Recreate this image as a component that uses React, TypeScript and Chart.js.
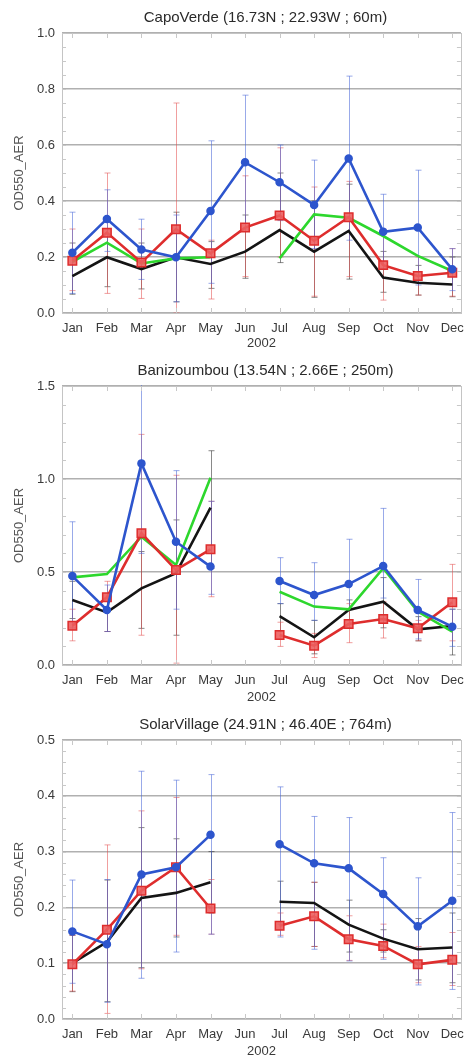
import { useEffect, useRef } from "react";
import { Chart, registerables } from "chart.js";

Chart.register(...registerables);

// ---- shared axis data ----
const MONTHS = ["Jan", "Feb", "Mar", "Apr", "May", "Jun", "Jul", "Aug", "Sep", "Oct", "Nov", "Dec"];
const MONTH_INDEX = [1, 2, 3, 4, 5, 6, 7, 8, 9, 10, 11, 12];
const YEAR_LABEL = "2002";
const Y_TITLE = "OD550_AER";

// ---- Capo Verde ----
const capoTitle = "CapoVerde (16.73N ; 22.93W ; 60m)";
const capoTicks = [0, 0.2, 0.4, 0.6, 0.8, 1.0];
const capoBlue = [0.215, 0.336, 0.227, 0.199, 0.364, 0.538, 0.467, 0.386, 0.552, 0.29, 0.305, 0.156];
const capoBlueLow = [0.07, 0.22, 0.12, 0.04, 0.106, 0.3, 0.33, 0.23, 0.26, 0.16, 0.1, 0.08];
const capoBlueHigh = [0.36, 0.44, 0.335, 0.35, 0.615, 0.778, 0.6, 0.546, 0.846, 0.424, 0.51, 0.23];
const capoRed = [0.187, 0.287, 0.18, 0.299, 0.213, 0.305, 0.348, 0.258, 0.342, 0.171, 0.132, 0.144];
const capoRedLow = [0.08, 0.07, 0.052, 0.0, 0.05, 0.13, 0.2, 0.06, 0.13, 0.046, 0.064, 0.06];
const capoRedHigh = [0.3, 0.5, 0.3, 0.75, 0.26, 0.49, 0.59, 0.45, 0.47, 0.3, 0.2, 0.23];
const capoGreen = [0.183, 0.251, 0.177, 0.195, 0.199, null, 0.195, 0.352, 0.34, 0.275, 0.204, 0.15];
const capoBlack = [0.132, 0.199, 0.157, 0.199, 0.175, 0.219, 0.296, 0.219, 0.293, 0.127, 0.108, 0.102];
const capoBlackLow = [0.067, 0.094, 0.086, 0.04, 0.088, 0.124, 0.18, 0.056, 0.121, 0.074, 0.064, 0.058];
const capoBlackHigh = [0.25, 0.3, 0.25, 0.36, 0.255, 0.35, 0.5, 0.4, 0.46, 0.22, 0.17, 0.2];

// ---- Banizoumbou ----
const baniTitle = "Banizoumbou (13.54N ; 2.66E ; 250m)";
const baniTicks = [0, 0.5, 1.0, 1.5];
const baniBlue = [0.478, 0.296, 1.084, 0.663, 0.529, null, 0.452, 0.376, 0.435, 0.532, 0.296, 0.206];
const baniBlueLow = [0.2, 0.18, 0.6, 0.3, 0.38, null, 0.33, 0.24, 0.3, 0.36, 0.14, 0.1];
const baniBlueHigh = [0.77, 0.43, 1.6, 1.045, 0.88, null, 0.577, 0.55, 0.676, 0.842, 0.46, 0.3];
const baniRed = [0.211, 0.364, 0.708, 0.511, 0.622, null, 0.161, 0.104, 0.22, 0.247, 0.197, 0.337];
const baniRedLow = [0.13, 0.18, 0.16, 0.01, 0.367, null, 0.1, 0.04, 0.12, 0.145, 0.13, 0.13];
const baniRedHigh = [0.3, 0.45, 1.24, 1.02, 0.88, null, 0.23, 0.17, 0.33, 0.34, 0.24, 0.541];
const baniGreen = [0.471, 0.489, 0.69, 0.538, 1.007, null, 0.394, 0.314, 0.299, 0.52, 0.287, 0.179];
const baniBlack = [0.349, 0.283, 0.412, 0.493, 0.846, null, 0.263, 0.149, 0.296, 0.34, 0.192, 0.21];
const baniBlackLow = [0.25, 0.18, 0.197, 0.16, 0.52, null, 0.18, 0.06, 0.2, 0.2, 0.13, 0.054];
const baniBlackHigh = [0.45, 0.36, 0.61, 0.78, 1.152, null, 0.33, 0.24, 0.35, 0.47, 0.26, 0.3];

// ---- Solar Village ----
const solarTitle = "SolarVillage (24.91N ; 46.40E ; 764m)";
const solarTicks = [0, 0.1, 0.2, 0.3, 0.4, 0.5];
const solarBlue = [0.157, 0.134, 0.259, 0.272, 0.33, null, 0.313, 0.279, 0.27, 0.224, 0.166, 0.212];
const solarBlueLow = [0.064, 0.03, 0.073, 0.12, 0.152, null, 0.147, 0.125, 0.104, 0.107, 0.061, 0.053];
const solarBlueHigh = [0.249, 0.25, 0.444, 0.428, 0.438, null, 0.416, 0.363, 0.361, 0.289, 0.253, 0.37];
const solarRed = [0.098, 0.16, 0.23, 0.272, 0.198, null, 0.167, 0.184, 0.143, 0.131, 0.098, 0.106];
const solarRedLow = [0.05, 0.01, 0.09, 0.15, 0.152, null, 0.15, 0.13, 0.105, 0.11, 0.065, 0.06];
const solarRedHigh = [0.15, 0.312, 0.373, 0.397, 0.25, null, 0.19, 0.245, 0.185, 0.17, 0.13, 0.155];
const solarBlack = [0.1, 0.138, 0.217, 0.226, 0.245, null, 0.21, 0.208, 0.169, 0.144, 0.125, 0.128];
const solarBlackLow = [0.049, 0.031, 0.092, 0.147, 0.19, null, 0.17, 0.13, 0.12, 0.12, 0.07, 0.065];
const solarBlackHigh = [0.15, 0.249, 0.343, 0.323, 0.3, null, 0.247, 0.245, 0.213, 0.16, 0.18, 0.19];

// ---- styles ----
const FONT = "'Liberation Sans', Arial, sans-serif";
const TEXT = "#3a3a3a";
const CANVAS_WIDTH = 472; // the page clips the last few pixels, so "Dec" runs to the edge

const STYLE = {
  blue: {
    borderColor: "rgb(45,85,205)",
    backgroundColor: "rgb(45,85,205)",
    pointStyle: "circle",
    pointRadius: 3.5,
    errColor: "rgba(70,100,215,0.55)",
  },
  red: {
    borderColor: "rgb(222,45,45)",
    backgroundColor: "rgba(236,95,95,0.9)",
    pointStyle: "rect",
    pointRadius: 6,
    errColor: "rgba(228,80,80,0.55)",
  },
  green: {
    borderColor: "rgb(45,215,45)",
    backgroundColor: "rgb(45,215,45)",
    pointStyle: "circle",
    pointRadius: 0,
    errColor: "",
  },
  black: {
    borderColor: "rgb(20,20,20)",
    backgroundColor: "rgb(20,20,20)",
    pointStyle: "circle",
    pointRadius: 0,
    errColor: "rgba(40,40,40,0.55)",
  },
};

type SeriesDef = {
  key: keyof typeof STYLE;
  values: (number | null)[];
  low?: (number | null)[];
  high?: (number | null)[];
};

type PanelDef = {
  title: string;
  ticks: number[];
  minorStep: number;
  series: SeriesDef[];
};

const PANELS: PanelDef[] = [
  {
    title: capoTitle,
    ticks: capoTicks,
    minorStep: 0.05,
    series: [
      { key: "blue", values: capoBlue, low: capoBlueLow, high: capoBlueHigh },
      { key: "red", values: capoRed, low: capoRedLow, high: capoRedHigh },
      { key: "green", values: capoGreen },
      { key: "black", values: capoBlack, low: capoBlackLow, high: capoBlackHigh },
    ],
  },
  {
    title: baniTitle,
    ticks: baniTicks,
    minorStep: 0.1,
    series: [
      { key: "blue", values: baniBlue, low: baniBlueLow, high: baniBlueHigh },
      { key: "red", values: baniRed, low: baniRedLow, high: baniRedHigh },
      { key: "green", values: baniGreen },
      { key: "black", values: baniBlack, low: baniBlackLow, high: baniBlackHigh },
    ],
  },
  {
    title: solarTitle,
    ticks: solarTicks,
    minorStep: 0.02,
    series: [
      { key: "blue", values: solarBlue, low: solarBlueLow, high: solarBlueHigh },
      { key: "red", values: solarRed, low: solarRedLow, high: solarRedHigh },
      { key: "black", values: solarBlack, low: solarBlackLow, high: solarBlackHigh },
    ],
  },
];

// error bars under the lines, frame + minor ticks + title on top
const decorPlugin = {
  id: "decor",
  beforeDatasetsDraw(chart: any) {
    const { ctx, chartArea: a, scales } = chart;
    const xs = scales.x;
    const ys = scales.y;
    ctx.save();
    ctx.beginPath();
    ctx.rect(a.left, a.top - 1, a.right - a.left, a.bottom - a.top + 2);
    ctx.clip();
    const sets = chart.data.datasets.slice().reverse();
    sets.forEach((ds: any) => {
      const low = ds.errLow;
      const high = ds.errHigh;
      if (!low || !high) return;
      ctx.strokeStyle = ds.errColor;
      ctx.lineWidth = 1;
      ds.data.forEach((p: any, i: number) => {
        if (low[i] == null || high[i] == null) return;
        const px = Math.round(xs.getPixelForValue(p.x)) + 0.5;
        const y1 = ys.getPixelForValue(low[i]);
        const y2 = ys.getPixelForValue(high[i]);
        ctx.beginPath();
        ctx.moveTo(px, y1);
        ctx.lineTo(px, y2);
        ctx.moveTo(px - 3, y1);
        ctx.lineTo(px + 3, y1);
        ctx.moveTo(px - 3, y2);
        ctx.lineTo(px + 3, y2);
        ctx.stroke();
      });
    });
    ctx.restore();
  },
  afterDraw(chart: any, _args: any, opts: any) {
    const { ctx, chartArea: a, scales } = chart;
    const xs = scales.x;
    const ys = scales.y;
    ctx.save();
    ctx.strokeStyle = "#c4c4c4";
    ctx.lineWidth = 1;
    ctx.strokeRect(Math.round(a.left) + 0.5, Math.round(a.top) + 0.5, Math.round(a.right - a.left), Math.round(a.bottom - a.top));
    // minor ticks on left and right
    ctx.strokeStyle = "#c8c8c8";
    ctx.beginPath();
    const step = opts.minorStep;
    for (let v = ys.min; v <= ys.max + 1e-9; v += step) {
      const py = Math.round(ys.getPixelForValue(v)) + 0.5;
      ctx.moveTo(a.left, py);
      ctx.lineTo(a.left + 4, py);
      ctx.moveTo(a.right, py);
      ctx.lineTo(a.right - 4, py);
    }
    // month ticks on top and bottom
    MONTH_INDEX.forEach((m) => {
      const px = Math.round(xs.getPixelForValue(m)) + 0.5;
      ctx.moveTo(px, a.top);
      ctx.lineTo(px, a.top + 5);
      ctx.moveTo(px, a.bottom);
      ctx.lineTo(px, a.bottom - 5);
    });
    ctx.stroke();
    // panel title
    ctx.fillStyle = "#2a2a2a";
    ctx.font = `15px ${FONT}`;
    ctx.textAlign = "center";
    ctx.textBaseline = "middle";
    ctx.fillText(opts.title, (a.left + a.right) / 2 + 4, a.top - 15);
    ctx.restore();
  },
};

function Panel({ def, top, height, axisHeight, plotTop }: { def: PanelDef; top: number; height: number; axisHeight: number; plotTop: number }) {
  const ref = useRef<HTMLCanvasElement | null>(null);

  useEffect(() => {
    if (!ref.current) return;
    const datasets = def.series.map((s) => {
      const st = STYLE[s.key];
      return {
        label: s.key,
        data: s.values.map((v, i) => ({ x: MONTH_INDEX[i], y: v })),
        borderColor: st.borderColor,
        backgroundColor: st.backgroundColor,
        pointBackgroundColor: st.backgroundColor,
        pointBorderColor: st.borderColor,
        pointBorderWidth: 1.5,
        pointStyle: st.pointStyle,
        pointRadius: st.pointRadius,
        borderWidth: 2.6,
        tension: 0,
        spanGaps: false,
        fill: false,
        errLow: s.low,
        errHigh: s.high,
        errColor: st.errColor,
      };
    });
    const yMin = def.ticks[0];
    const yMax = def.ticks[def.ticks.length - 1];
    const chart = new Chart(ref.current, {
      type: "line",
      data: { datasets: datasets as any },
      plugins: [decorPlugin as any],
      options: {
        animation: false,
        responsive: false,
        layout: { padding: { top: plotTop, right: 0, left: 0, bottom: 0 } },
        plugins: {
          legend: { display: false },
          tooltip: { enabled: false },
          decor: { title: def.title, minorStep: def.minorStep },
        } as any,
        scales: {
          x: {
            type: "linear",
            min: 0.7,
            max: 12.25,
            afterBuildTicks: (scale: any) => {
              scale.ticks = MONTH_INDEX.map((v) => ({ value: v }));
            },
            afterFit: (scale: any) => {
              scale.height = axisHeight;
            },
            ticks: {
              autoSkip: false,
              maxRotation: 0,
              padding: 8,
              color: TEXT,
              font: { family: FONT, size: 13 },
              callback: (v: any) => MONTHS[Number(v) - 1],
            },
            grid: { display: false, drawTicks: false },
            border: { display: false },
            title: {
              display: true,
              text: YEAR_LABEL,
              color: TEXT,
              font: { family: FONT, size: 13 },
              padding: { top: 0, bottom: 3 },
            },
          },
          y: {
            min: yMin,
            max: yMax,
            afterBuildTicks: (scale: any) => {
              scale.ticks = def.ticks.map((v) => ({ value: v }));
            },
            afterFit: (scale: any) => {
              scale.width = 62;
            },
            ticks: {
              padding: 7,
              color: TEXT,
              font: { family: FONT, size: 13 },
              callback: (v: any) => Number(v).toFixed(1),
            },
            grid: { color: "rgba(150,150,150,0.75)", lineWidth: 1.5, drawTicks: false },
            border: { display: false },
            title: {
              display: true,
              text: Y_TITLE,
              color: "#555555",
              font: { family: FONT, size: 13 },
              padding: { top: 12, bottom: 0 },
            },
          },
        },
      },
    });
    return () => chart.destroy();
  }, [def, axisHeight, plotTop]);

  return (
    <canvas
      ref={ref}
      width={CANVAS_WIDTH}
      height={height}
      style={{ position: "absolute", left: 0, top, width: CANVAS_WIDTH, height, display: "block" }}
    />
  );
}

export default function App() {
  return (
    <div
      style={{
        position: "absolute",
        left: 0,
        top: 0,
        width: 469,
        height: 1055,
        overflow: "hidden",
        background: "#ffffff",
      }}
    >
      <Panel def={PANELS[0]} top={0} height={354} plotTop={33} axisHeight={41} />
      <Panel def={PANELS[1]} top={354} height={354} plotTop={32} axisHeight={43} />
      <Panel def={PANELS[2]} top={708} height={354} plotTop={32} axisHeight={43} />
    </div>
  );
}
